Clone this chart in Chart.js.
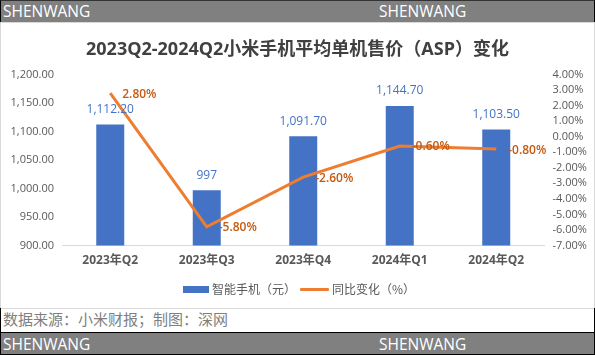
<!DOCTYPE html>
<html>
<head>
<meta charset="utf-8">
<script src="https://cdn.jsdelivr.net/npm/chart.js@4.4.0/dist/chart.umd.min.js"></script>
<style>
  html, body { margin: 0; padding: 0; background: #fff; }
  body { width: 595px; height: 355px; position: relative; overflow: hidden; }
  .abs { position: absolute; }
  .banner { left: 0; width: 593px; height: 22px; background: #808080; border-left: 1px solid #000; border-right: 1px solid #000; }
  .btxt { position: absolute; top: 0; height: 22px; line-height: 22px; color: #fff; font: 15.5px "Open Sans", sans-serif; }
  #frame { left: 0; top: 22px; width: 593px; height: 285px; border: 1px solid #d9d9d9; }
  #footer { left: 0; top: 308px; width: 593px; height: 24px; border-left: 1px solid #000; border-right: 1px solid #000; }
  #title { left: 0; top: 34px; width: 595px; text-align: center; line-height: 22px; font: bold 18px "Open Sans", "Noto Sans CJK SC", sans-serif; color: #404040; z-index: 3; }
  .lg { top: 280px; height: 18px; line-height: 18px; font: 12px "Noto Sans CJK SC", sans-serif; color: #595959; z-index: 3; }
  canvas { position: absolute; left: 0; top: 0; z-index: 2; }
</style>
</head>
<body>
<div class="abs banner" style="top:0;border-top:1px solid #333;height:21px;">
  <span class="btxt" style="left:2px;top:-1px;">SHENWANG</span>
  <span class="btxt" style="left:378px;top:-1px;">SHENWANG</span>
</div>
<div class="abs" id="frame"></div>
<div class="abs" id="title">2023Q2-2024Q2小米手机平均单机售价（ASP）变化</div>
<div class="abs" style="left:183px;top:285.5px;width:26px;height:7px;background:#4472c4;z-index:3;"></div>
<div class="abs lg" style="left:212px;">智能手机（元）</div>
<div class="abs" style="left:300px;top:287.5px;width:29px;height:3px;background:#ed7d31;z-index:3;border-radius:1px;"></div>
<div class="abs lg" style="left:332px;">同比变化（%）</div>
<div class="abs" id="footer">
  <span style="position:absolute;left:2px;top:0;line-height:24px;font:15px 'Noto Sans CJK SC',sans-serif;color:#7f7f7f;">数据来源：小米财报；制图：深网</span>
</div>
<div class="abs banner" style="top:332px;border-top:1px solid #000;border-bottom:1px solid #000;height:21px;">
  <span class="btxt" style="left:2px;">SHENWANG</span>
  <span class="btxt" style="left:378px;">SHENWANG</span>
</div>
<canvas id="c" width="595" height="355"></canvas>
<script>
const categories = ["2023年Q2", "2023年Q3", "2023年Q4", "2024年Q1", "2024年Q2"];
const aspValues = [1112.2, 997, 1091.7, 1144.7, 1103.5];
const yoyValues = [2.8, -5.8, -2.6, -0.6, -0.8];
const leftTicks = [900, 950, 1000, 1050, 1100, 1150, 1200];
const rightTicks = [-7, -6, -5, -4, -3, -2, -1, 0, 1, 2, 3, 4];

const numFont = "'Open Sans', 'Noto Sans CJK SC', sans-serif";

function fmtBar(v) {
  if (Number.isInteger(v)) return String(v);
  return v.toLocaleString('en-US', { minimumFractionDigits: 2, maximumFractionDigits: 2 });
}

const labelPlugin = {
  id: 'valueLabels',
  afterDatasetsDraw(chart) {
    const ctx = chart.ctx;
    ctx.save();
    ctx.font = "12px " + numFont;
    const barMeta = chart.getDatasetMeta(1);
    ctx.fillStyle = '#4472c4';
    ctx.textAlign = 'center';
    ctx.textBaseline = 'middle';
    barMeta.data.forEach((el, i) => {
      ctx.fillText(fmtBar(aspValues[i]), el.x, el.y - 15);
    });
    const lineMeta = chart.getDatasetMeta(0);
    ctx.font = "600 12px " + numFont;
    ctx.fillStyle = '#c55a11';
    ctx.textAlign = 'left';
    lineMeta.data.forEach((el, i) => {
      ctx.fillText(yoyValues[i].toFixed(2) + '%', el.x + 12, el.y + 1);
    });
    ctx.restore();
  }
};

new Chart(document.getElementById('c'), {
  data: {
    labels: categories,
    datasets: [
      {
        type: 'line', label: '同比变化（%）', data: yoyValues, yAxisID: 'y1',
        borderColor: '#ed7d31', backgroundColor: '#ed7d31', borderWidth: 3,
        pointRadius: 0, tension: 0, order: 0
      },
      {
        type: 'bar', label: '智能手机（元）', data: aspValues, yAxisID: 'y',
        backgroundColor: '#4472c4', categoryPercentage: 1, barPercentage: 0.29, order: 1
      }
    ]
  },
  options: {
    responsive: false,
    animation: false,
    events: [],
    layout: { padding: { top: 74.5, bottom: 79.5, left: 0, right: 0 } },
    plugins: { legend: { display: false }, tooltip: { enabled: false }, title: { display: false } },
    scales: {
      x: {
        grid: { display: false, drawTicks: false },
        border: { display: true, color: '#d9d9d9', width: 1 },
        ticks: { padding: 8, color: '#595959', font: { size: 12, weight: 'bold', family: numFont } },
        afterFit(s) { s.height = 30; }
      },
      y: {
        position: 'left', min: 900, max: 1200,
        grid: { display: false, drawTicks: false },
        border: { display: false },
        afterBuildTicks(s) { s.ticks = leftTicks.map(v => ({ value: v })); },
        ticks: {
          autoSkip: false,
          padding: 8, color: '#595959', font: { size: 11, family: numFont },
          callback: v => v.toLocaleString('en-US', { minimumFractionDigits: 2, maximumFractionDigits: 2 })
        },
        afterFit(s) { s.width = 62; }
      },
      y1: {
        position: 'right', min: -7, max: 4,
        grid: { display: false, drawTicks: false },
        border: { display: false },
        afterBuildTicks(s) { s.ticks = rightTicks.map(v => ({ value: v })); },
        ticks: {
          autoSkip: false,
          padding: 8, color: '#595959', font: { size: 11, family: numFont },
          callback: v => v.toFixed(2) + '%'
        },
        afterFit(s) { s.width = 50.5; }
      }
    }
  },
  plugins: [labelPlugin]
});
</script>
</body>
</html>
